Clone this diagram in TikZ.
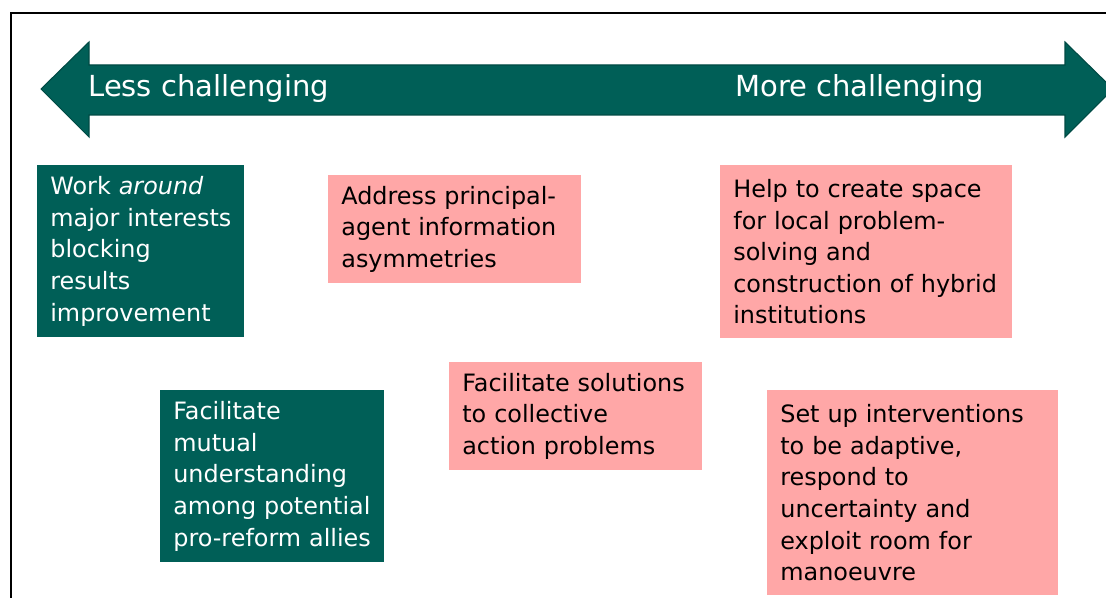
\documentclass[tikz,border=0pt]{standalone}
\usepackage{fontspec}
\setmainfont{DejaVu Sans}
\usetikzlibrary{positioning,shapes}
\usepackage{xcolor}
\definecolor{darkteal}{HTML}{005F57}
\definecolor{tealedge}{HTML}{004A44}
\definecolor{softpink}{HTML}{FFA7A7}

\begin{document}
\begin{tikzpicture}
[x=0.02cm, y=-0.02cm,
every node/.style={execute at begin node={\hyphenpenalty=10000\hbadness=10000}},
% The label style is used for the two ends of the scale
label/.style={text=white, font=\fontsize{16.5}{20}\selectfont, anchor=west, inner sep=0pt},
% The easy style is used for the less challenging tasks
easy/.style={rectangle, anchor=north west, fill=darkteal, text=white, inner xsep=0.26cm, inner ysep=0pt, align=left, font=\fontsize{13.6}{18}\selectfont},
% The hard style is used for the more challenging tasks
hard/.style={rectangle, anchor=north west, fill=softpink, text=black, inner xsep=0.26cm, inner ysep=0pt, align=left, font=\fontsize{13.6}{18}\selectfont}
]
\useasboundingbox (0,0) rectangle (1106,598);
\clip (0,0) rectangle (1106,598);
% Frame
\draw[line width=1.2pt] (11,13) rectangle (1130,640);
% Draw the double arrow
\draw[fill=darkteal, draw=tealedge, line width=0.6pt]
  (41,89) -- (89,42) -- (89,65) -- (1065,65) -- (1065,42) -- (1113,89)
  -- (1065,137) -- (1065,115) -- (89,115) -- (89,137) -- cycle;
\node[label] (less) at (88,89) {Less challenging};
\node[label] (more) at (735,89) {More challenging};

% Draw tasks
\node[easy, minimum width=4.14cm, minimum height=3.44cm, text width=3.62cm] (around) at (37,165)
  {Work \textit{around}\\major~interests\\blocking\\results\\improvement};
\node[hard, minimum width=5.06cm, minimum height=2.16cm, text width=4.54cm] (principal) at (328,175)
  {Address principal-\\agent information\\asymmetries};
\node[hard, minimum width=5.84cm, minimum height=3.46cm, text width=5.32cm] (space) at (720,165)
  {Help to create space\\for local problem-\\solving and\\construction of hybrid\\institutions};
\node[easy, minimum width=4.48cm, minimum height=3.44cm, text width=3.96cm] (mutual) at (160,390)
  {Facilitate\\mutual\\understanding\\among potential\\pro-reform allies};
\node[hard, minimum width=5.06cm, minimum height=2.16cm, text width=4.54cm] (collective) at (449,362)
  {Facilitate solutions\\to collective\\action problems};
\node[hard, minimum width=5.82cm, minimum height=4.10cm, text width=5.30cm] (adaptive) at (767,390)
  {Set up interventions\\to be adaptive,\\respond to\\uncertainty and\\exploit room for\\manoeuvre};
\end{tikzpicture}
\end{document}
